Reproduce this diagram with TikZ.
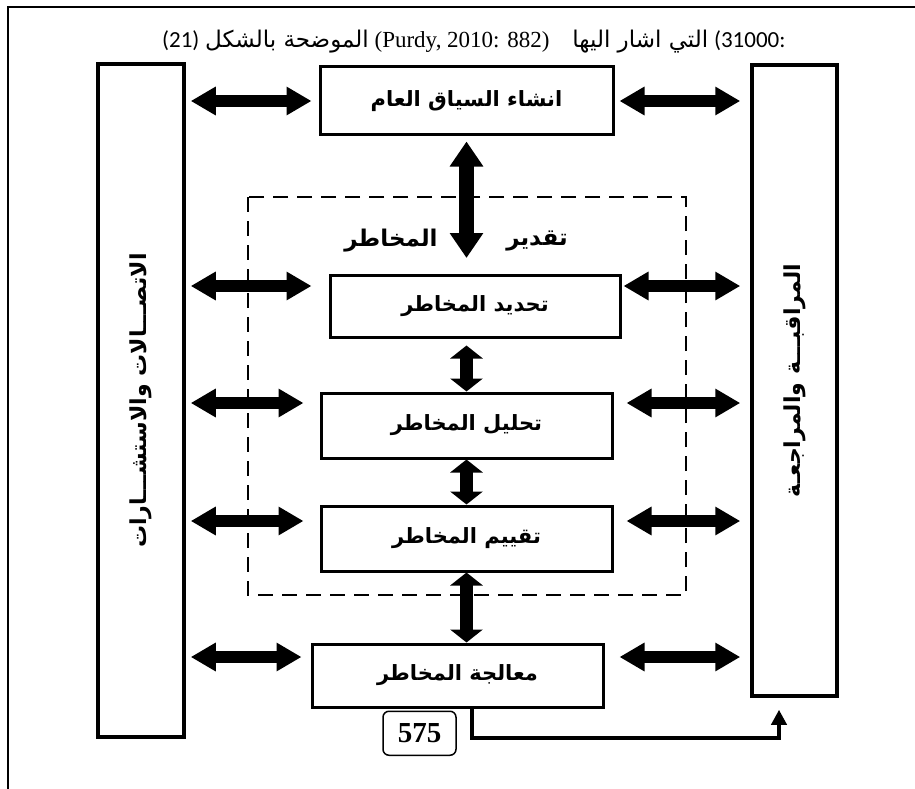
\documentclass[tikz,border=0pt]{standalone}
\usepackage{fontspec}
\setmainfont{Liberation Serif}
\newfontfamily\arabicfont[Script=Arabic]{DejaVu Sans}
\newfontfamily\calfont{Carlito}
\TeXXeTstate=1
\usetikzlibrary{positioning,arrows.meta,calc}
\tikzset{stage/.style={draw,line width=3pt,minimum width=291pt,minimum height=64pt,inner sep=0pt,font=\arabicfont\bfseries\fontsize{21}{24}\selectfont},
  side/.style={draw,line width=3.5pt,inner sep=0pt},
  sidetxt/.style={rotate=90,inner sep=0pt,font=\arabicfont\bfseries\fontsize{22}{25}\selectfont},
  hdbl/.style={line width=12pt,>={Triangle[length=25pt,width=27pt]},<->},
  vdbl/.style={line width=13pt,>={Triangle[length=13pt,width=32pt]},<->},
  vbig/.style={line width=15pt,>={Triangle[length=25pt,width=32pt]},<->},
  fb/.style={line width=4pt,>={Triangle[length=15pt,width=15pt]},->}}

\begin{document}
\begin{tikzpicture}[x=1pt,y=-1pt]
          \useasboundingbox (0,0) rectangle (915,789);
          \draw[line width=1.3pt] (8,789) -- (8,7) -- (915,7);

          % heading line
          \node (hdr) [anchor=base west,inner sep=0pt,font=\fontsize{23}{27}\selectfont] at (162,48)
            {{\calfont (21)} {\arabicfont\beginR الموضحة بالشكل\endR} (Purdy, 2010: 882)\quad {\arabicfont\beginR التي اشار اليها\endR} {\calfont (31000:}};

          % side columns
          \node (comm) [side,minimum width=86pt,minimum height=673pt] at (141,400.5) {};
          \node (commtxt) [sidetxt] at (comm) {\beginR الاتصـــالات والاستشـــارات\endR};
          \node (mon) [side,minimum width=85pt,minimum height=631pt] at (794.5,380.5) {};
          \node (montxt) [sidetxt] at (mon) {\beginR المراقبـــة والمراجعـة\endR};

          % process column
          \node (ctx) [stage,minimum width=293pt,minimum height=68pt] at (466.5,101) {\beginR انشاء السياق العام\endR};
          \node (ident) [stage,minimum width=290pt,minimum height=62pt] at (475,306) {\beginR تحديد المخاطر\endR};
          \node (anal) [stage,below=53pt of ident.south,anchor=north,xshift=-8.5pt,minimum height=65pt] {\beginR تحليل المخاطر\endR};
          \node (eval) [stage,below=45pt of anal,minimum height=65pt] {\beginR تقييم المخاطر\endR};
          \node (treat) [stage,below=70pt of eval,xshift=-9pt,minimum height=63pt] {\beginR معالجة المخاطر\endR};
          \node (page) [draw,line width=1.5pt,rounded corners=6pt,minimum width=73pt,minimum height=44pt,inner sep=0pt,
            font=\bfseries\fontsize{29}{32}\selectfont,below=2pt of treat.south,anchor=north,xshift=-38pt] {575};

          % risk assessment frame
          \draw[line width=2.5pt,dash pattern=on 15pt off 9pt] (248,197) rectangle (686,595);
          \node (estA) [font=\arabicfont\bfseries\fontsize{23}{26}\selectfont,inner sep=0pt] at (537,241) {تقدير};
          \node (estB) [font=\arabicfont\bfseries\fontsize{23}{26}\selectfont,inner sep=0pt] at (391,241) {المخاطر};
          \coordinate (estcue) at (466.5,258);

          % vertical links
          \draw[vbig,shorten <=5pt] (ctx.south) -- (estcue);
          \draw[vdbl,shorten <=7pt] (anal.north |- ident.south) -- (anal.north);
          \draw[vdbl] (anal.south) -- (eval.north);
          \draw[vdbl] (eval.south) -- (eval.south |- treat.north);

          % links to the side columns
          \foreach \b/\s/\l/\r in {ctx/0/7/5, ident/20/17/2, anal/22.5/16/13, eval/17.5/16/13, treat/18.5/9/15}
          {\draw[hdbl,shorten <=5pt,shorten >=\l pt] ([yshift=\s pt]comm.east |- \b.west) -- ([yshift=\s pt]\b.west);
           \draw[hdbl,shorten <=\r pt,shorten >=10pt] ([yshift=\s pt]\b.east) -- ([yshift=\s pt]mon.west |- \b.east);}

          % feedback to monitoring
          \coordinate (fbend) at (779,738);
          \draw[fb,shorten >=12pt] ([xshift=14.5pt]treat.south) |- (fbend) -- (fbend |- mon.south);
\end{tikzpicture}
\end{document}
